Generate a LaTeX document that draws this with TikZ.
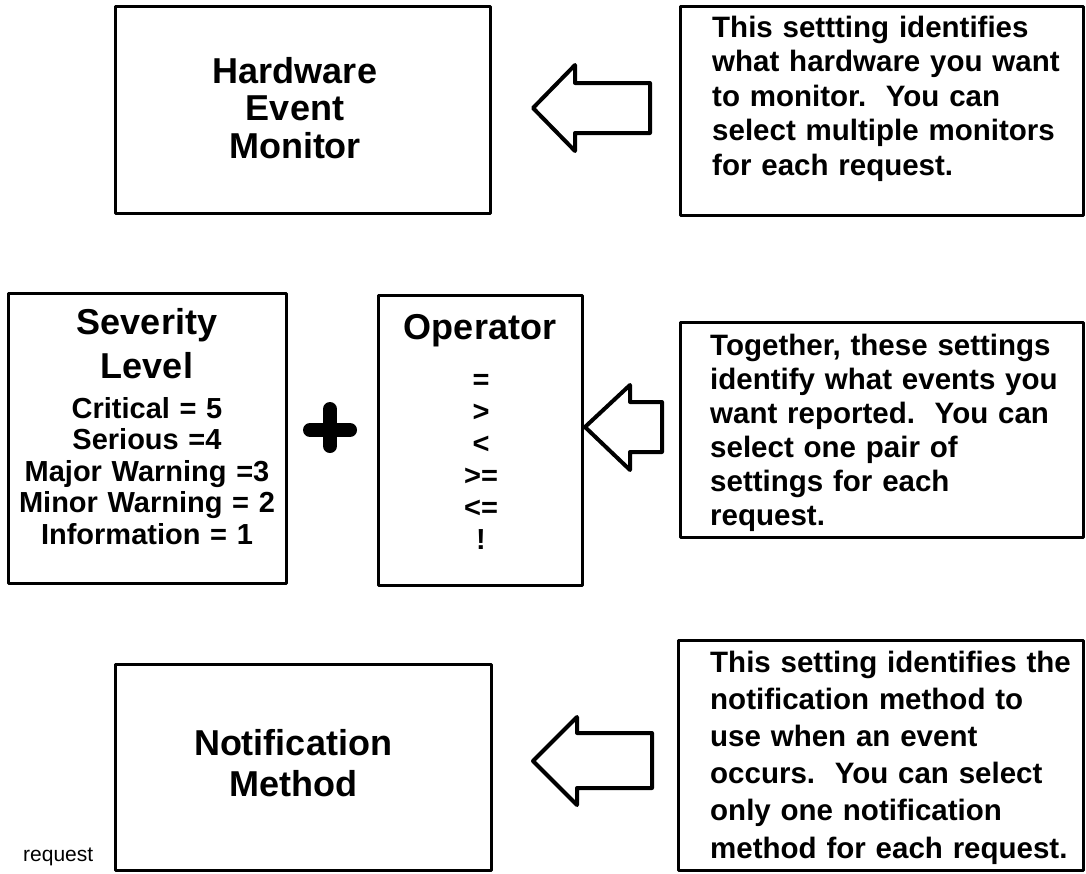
\documentclass[tikz,border=0pt]{standalone}
\usepackage{fontspec}
\setmainfont{Liberation Sans}
\tikzset{
  box/.style={draw, line width=3pt, line join=round, inner sep=0pt, outer sep=0pt},
  bigtxt/.style={font=\fontsize{36}{37.5}\selectfont\bfseries, inner sep=0pt, align=center, text width=360pt},
  midtxt/.style={font=\fontsize{29}{31.5}\selectfont\bfseries, inner sep=0pt, align=center, text width=300pt},
  desctxt/.style={font=\fontsize{29.5}{34.5}\selectfont\bfseries, inner sep=0pt, align=left, text width=380pt, anchor=base west},
  blockarrow/.style={draw, line width=4pt, line join=round, fill=white},
  plusbar/.style={line width=14pt, line cap=round}
}
\begin{document}
\begin{tikzpicture}[x=1pt,y=-1pt]
\useasboundingbox (0,0) rectangle (1086,873);
% boxes
\node[box, minimum width=375pt, minimum height=207pt] (hw) at (302.5,109.5) {};
\node[box, minimum width=403pt, minimum height=209pt] (tr) at (881.5,110.5) {};
\node[box, minimum width=278pt, minimum height=290pt] (sev) at (147,438) {};
\node[box, minimum width=204pt, minimum height=290pt] (op) at (480,440) {};
\node[box, minimum width=403pt, minimum height=215pt] (mr) at (881.5,429.5) {};
\node[box, minimum width=376pt, minimum height=206pt] (nm) at (303,767) {};
\node[box, minimum width=405pt, minimum height=230pt] (br) at (880.5,755) {};
% texts
\node[bigtxt, anchor=base] (hwt) at (295,83) {Hardware\\Event\\Monitor};
\node[desctxt] (trt) at (712,37) {This settting identifies\\what hardware you want\\to monitor.\ \ You can\\select multiple monitors\\for each request.};
\node[bigtxt, anchor=base, font=\fontsize{36}{44}\selectfont\bfseries] (sevt) at (147,334) {Severity\\Level};
\node[midtxt, anchor=base] (sevl) at (147,418) {Critical = 5\\Serious =4\\Major Warning =3\\Minor Warning = 2\\Information = 1};
\node[bigtxt, anchor=base] (opt) at (480,339) {Operator};
\node[midtxt, anchor=base, font=\fontsize{29}{32}\selectfont\bfseries] (opl) at (481,389) {=\\>\\<\\>=\\<=\\!};
\node[desctxt, font=\fontsize{29.5}{34}\selectfont\bfseries] (mrt) at (710,355) {Together, these settings\\identify what events you\\want reported.\ \ You can\\select one pair of\\settings for each\\request.};
\node[bigtxt, anchor=base, font=\fontsize{36}{41}\selectfont\bfseries] (nmt) at (293,755) {Notification\\Method};
\node[desctxt, font=\fontsize{29.5}{37.2}\selectfont\bfseries] (brt) at (710,672) {This setting identifies the\\notification method to\\use when an event\\occurs.\ \ You can select\\only one notification\\method for each request.};
\node[anchor=base west, inner sep=0pt, font=\fontsize{21}{24}\selectfont] (req) at (23,861) {request};
% block arrows
\draw[blockarrow] (533,108) -- (575,65) -- (575,83) -- (650,83) -- (650,133) -- (575,133) -- (575,151) -- cycle;
\draw[blockarrow] (585,427) -- (630,385) -- (630,402) -- (662,402) -- (662,452) -- (630,452) -- (630,470) -- cycle;
\draw[blockarrow] (533,761) -- (577,717) -- (577,733) -- (652,733) -- (652,788) -- (577,788) -- (577,805) -- cycle;
% plus
\coordinate (pl) at (310,430);
\coordinate (pr) at (350,430);
\coordinate (pt) at (330,409);
\coordinate (pb) at (330,446);
\draw[plusbar] (pl) -- (pr);
\draw[plusbar] (pt) -- (pb);
\end{tikzpicture}
\end{document}
